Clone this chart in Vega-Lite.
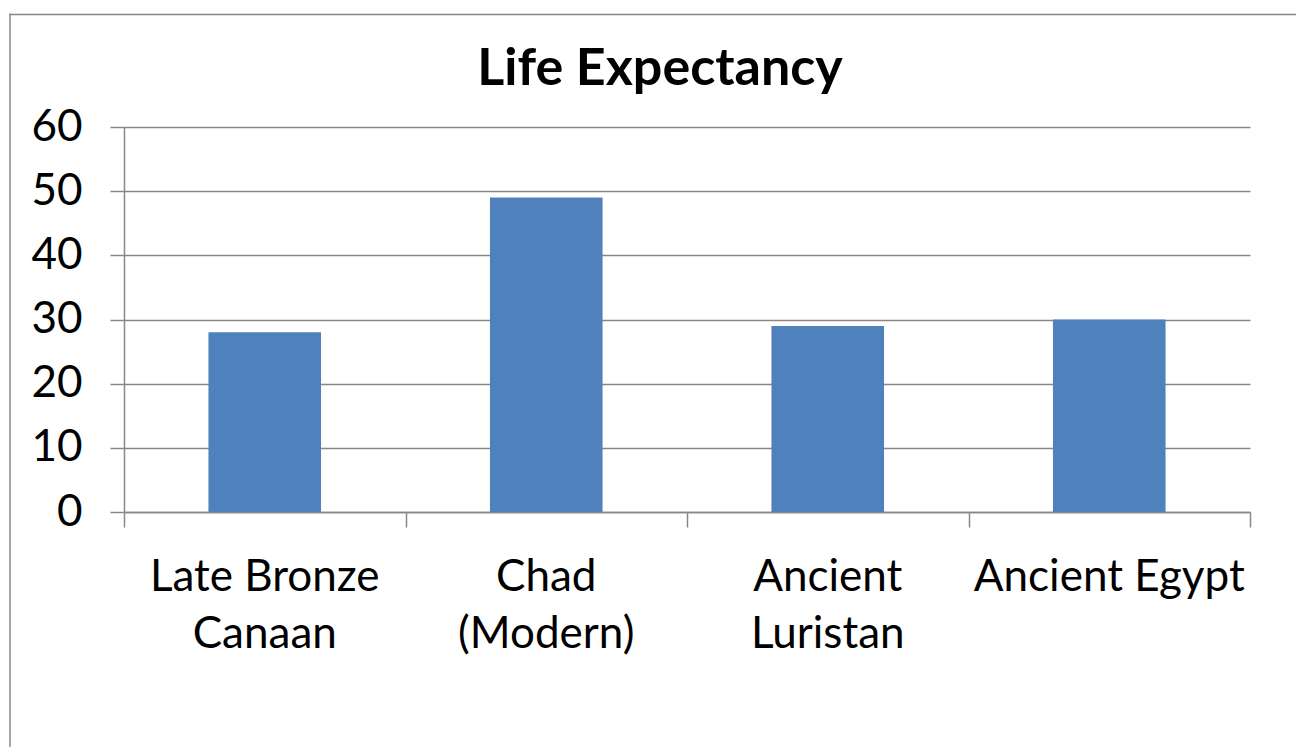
{
  "$schema": "https://vega.github.io/schema/vega-lite/v6.json",
  "autosize": {"type": "none"},
  "padding": {"left": 124, "top": 127, "right": 46, "bottom": 235},
  "width": 1126,
  "height": 385,
  "background": "white",
  "config": {"font": "Lato", "view": {"stroke": null}},
  "title": {"text": "Life Expectancy", "fontSize": 52, "font": "Lato", "fontWeight": "bold", "color": "black", "offset": -82, "dx": -27},
  "data": {"values": [
    {"place": "Late Bronze Canaan", "life": 28},
    {"place": "Chad (Modern)", "life": 49},
    {"place": "Ancient Luristan", "life": 29},
    {"place": "Ancient Egypt", "life": 30}
  ]},
  "layer": [
    {
      "mark": {"type": "bar", "color": "#4F81BD"},
      "encoding": {
        "x": {"field": "place", "type": "nominal", "sort": null,
          "scale": {"paddingInner": 0.6, "paddingOuter": 0.3},
          "axis": {"title": null, "ticks": false, "domain": true, "domainColor": "#888888", "domainWidth": 1.5,
            "labelAngle": 0, "labelFontSize": 44, "labelColor": "black", "labelPadding": 43, "labelLineHeight": 57,
            "labelLimit": 0,
            "labelExpr": "datum.value == 'Late Bronze Canaan' ? ['Late Bronze', 'Canaan'] : datum.value == 'Chad (Modern)' ? ['Chad', '(Modern)'] : datum.value == 'Ancient Luristan' ? ['Ancient', 'Luristan'] : datum.value"}},
        "y": {"field": "life", "type": "quantitative",
          "scale": {"domain": [0, 60], "nice": false},
          "axis": {"title": null, "values": [0, 10, 20, 30, 40, 50, 60], "tickSize": 14, "tickColor": "#888888", "tickWidth": 1.5,
            "domainColor": "#888888", "domainWidth": 1.5, "gridColor": "#888888", "gridWidth": 1.5, "grid": true,
            "labelFontSize": 44, "labelColor": "black", "labelPadding": 28}}
      }
    },
    {
      "mark": {"type": "point", "opacity": 0},
      "encoding": {
        "x": {"datum": 0, "type": "quantitative",
          "scale": {"domain": [0, 4], "nice": false, "zero": false},
          "axis": {"title": null, "values": [0, 1, 2, 3, 4], "labels": false, "domain": false, "grid": false,
            "tickSize": 15, "tickColor": "#888888", "tickWidth": 1.5, "orient": "bottom"}}
      }
    },
    {
      "mark": {"type": "point", "opacity": 0},
      "encoding": {
        "x": {"datum": 0, "type": "quantitative",
          "scale": {"domain": [0, 1], "nice": false, "zero": false, "range": [-115, 1185]},
          "axis": {"title": null, "orient": "top", "offset": 113, "labels": false, "ticks": false, "grid": false,
            "domain": true, "domainColor": "#888888", "domainWidth": 1.5}},
        "y": {"datum": 0, "type": "quantitative",
          "scale": {"domain": [0, 1], "nice": false, "zero": false, "range": [700, -114]},
          "axis": {"title": null, "orient": "left", "offset": 114.5, "labels": false, "ticks": false, "grid": false,
            "domain": true, "domainColor": "#888888", "domainWidth": 1.5}}
      }
    }
  ],
  "resolve": {"scale": {"x": "independent", "y": "independent"}, "axis": {"x": "independent", "y": "independent"}}
}
